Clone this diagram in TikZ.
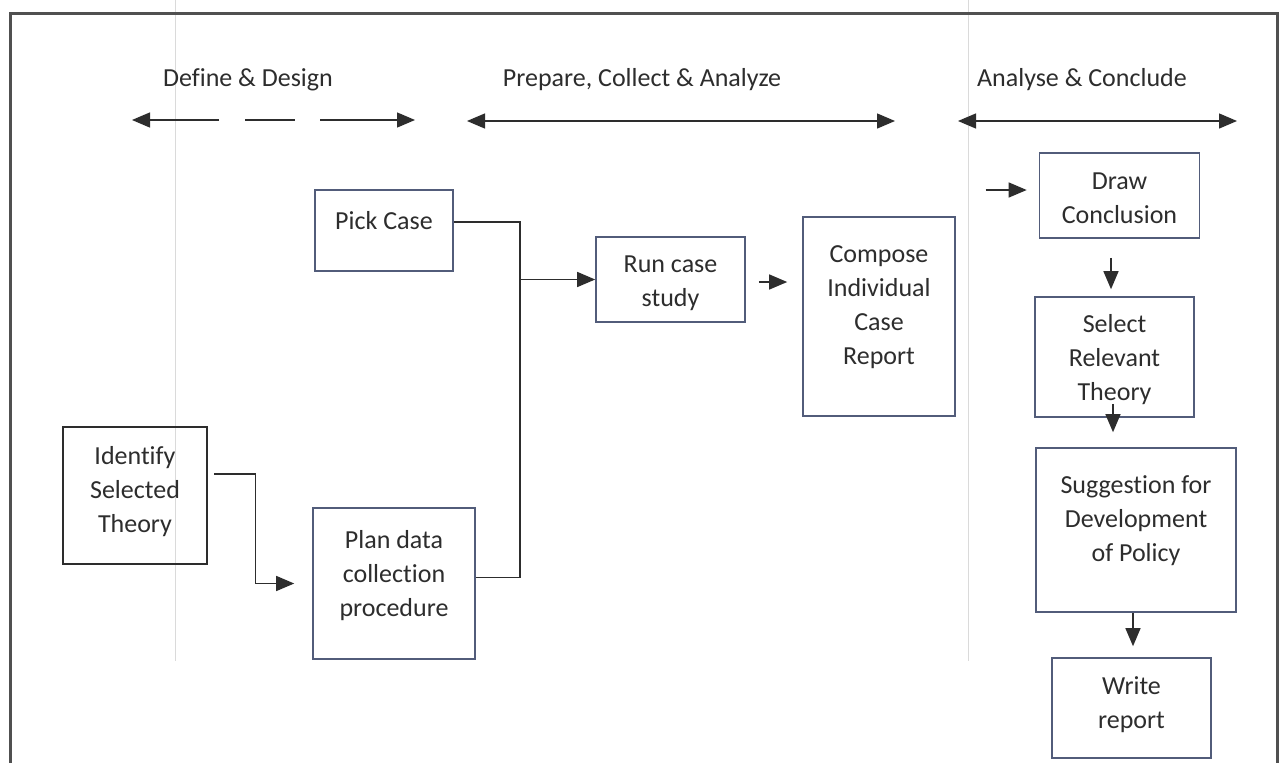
\documentclass[tikz,border=0pt]{standalone}
\usepackage{fontspec}
\setmainfont{Carlito}[Ligatures=NoCommon]
\usetikzlibrary{arrows.meta,calc}
\definecolor{frameGray}{RGB}{80,80,80}
\definecolor{boxEdge}{RGB}{82,92,122}
\definecolor{inkGray}{RGB}{45,45,45}
\definecolor{guideGray}{RGB}{218,218,218}
\begin{document}
\begin{tikzpicture}[x=1pt,y=-1pt,
  box/.style={draw=boxEdge, line width=1.6pt, fill=none, inner sep=0pt},
  darkbox/.style={draw=inkGray, line width=2.4pt, fill=none, inner sep=0pt},
  txt/.style={text=inkGray, align=center, inner sep=0pt,
              font=\fontsize{26}{34}\selectfont},
  link/.style={draw=inkGray, line width=1.3pt},
  tip/.tip={Triangle[length=18pt,width=15pt]},
  arr/.style={link, -tip},
  twoway/.style={link, tip-tip},
  guide/.style={draw=guideGray, line width=1pt},
  frameline/.style={draw=frameGray, line width=3pt}
]
% canvas
\useasboundingbox (0,0) rectangle (1286,763);
\fill[white] (0,0) rectangle (1286,763);

% phase dividers and outer frame
\draw[guide] (175,0) -- (175,661);
\draw[guide] (968,0) -- (968,661);
\draw[frameline] (10,765) -- (10,13) -- (1277,13) -- (1277,765);

% phase headings
\node[txt] (hDefine)  at (248,80)  {Define \& Design};
\node[txt] (hPrepare) at (642,80)  {Prepare, Collect \& Analyze};
\node[txt] (hConclude) at (1082,80) {Analyse \& Conclude};

% phase span arrows
\coordinate (dL) at (132,120);
\coordinate (dA) at (219,120);
\coordinate (dB) at (245,120);
\coordinate (dC) at (295,120);
\coordinate (dD) at (320,120);
\coordinate (dR) at (415,120);
\draw[arr] (dA) -- (dL);
\draw[link] (dB) -- (dC);
\draw[arr] (dD) -- (dR);
\coordinate (pL) at (467,121);
\coordinate (pR) at (895,121);
\draw[twoway] (pL) -- (pR);
\coordinate (cL) at (958,121);
\coordinate (cR) at (1237,121);
\draw[twoway] (cL) -- (cR);

% process boxes
\node[darkbox, minimum width=144pt, minimum height=137pt] (ident) at (135,495.5) {};
\node[box, minimum width=138pt, minimum height=81pt]  (pick)    at (384,230.5) {};
\node[box, minimum width=162pt, minimum height=151pt] (plan)    at (394,583.5) {};
\node[box, minimum width=149pt, minimum height=85pt]  (run)     at (670.5,279.5) {};
\node[box, minimum width=152pt, minimum height=199pt] (compose) at (879,316.5) {};
\node[box, minimum width=160pt, minimum height=85pt]  (dc)      at (1119.5,195.5) {};
\node[box, minimum width=159pt, minimum height=120pt] (sel)     at (1114.5,357) {};
\node[box, minimum width=200pt, minimum height=164pt] (sugg)    at (1136,530) {};
\node[box, minimum width=159pt, minimum height=100pt] (write)   at (1131.5,708) {};

% box captions
\node[txt] (identT)   at (135,492)     {Identify\\Selected\\Theory};
\node[txt] (pickT)    at (384,221)     {Pick Case};
\node[txt] (planT)    at (394,576)     {Plan data\\collection\\procedure};
\node[txt] (runT)     at (670.5,283)   {Run case\\study};
\node[txt] (composeT) at (879,307.5)   {Compose\\Individual\\Case\\Report};
\node[txt] (dcT)      at (1119.5,198)  {Draw\\Conclusion};
\node[txt] (selT)     at (1114.5,360)  {Select\\Relevant\\Theory};
\node[txt] (suggT)    at (1136,521)    {Suggestion for\\Development\\of Policy};
\node[txt] (writeT)   at (1131.5,704.5) {Write\\report};

% connectors
\coordinate (jx) at (520,0);
\coordinate (pickOut) at ([yshift=8.5pt]pick.east);
\coordinate (planOut) at ([yshift=6pt]plan.east);
\draw[link] (pickOut) -| (jx |- planOut) -- (planOut);
\draw[arr] (jx |- run.west) -- (run.west);
\draw[arr] ($(ident.east)+(6,-21.5)$) -- ++(41,0) |- ($(plan.west)+(-18,0)$);
\draw[arr] ($(run.east)+(13,2.5)$) -- ($(compose.west |- run.east)+(-15,2.5)$);
\draw[arr] ($(dc.west)+(-53,-5.5)$) -- ($(dc.west)+(-12,-5.5)$);
\draw[arr] ($(dc.south)+(-8.5,19)$) -- ($(sel.north)+(-3.5,-7)$);
\draw[arr] ($(sel.south)+(-1.5,-14)$) -- ($(sel.south |- sugg.north)+(-1.5,-15)$);
\draw[arr] ($(sugg.south)+(-3,0)$) -- ($(write.north)+(1.5,-11)$);
\end{tikzpicture}
\end{document}
